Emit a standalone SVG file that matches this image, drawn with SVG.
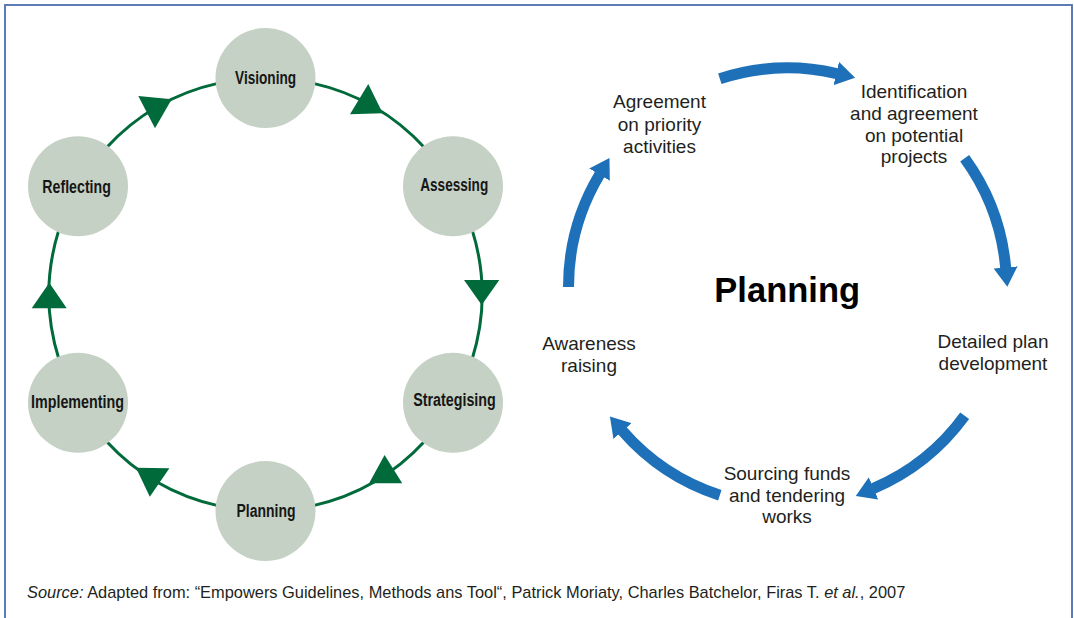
<svg xmlns="http://www.w3.org/2000/svg" width="1074" height="618" viewBox="0 0 1074 618">
<style>
.frame{fill:none;stroke:#4a6fb0;stroke-width:1.8}
.ring{fill:none;stroke:#006a3a;stroke-width:3}
.head{fill:#006a3a}
.node{fill:#c5d1c4}
.nl{font-family:"Liberation Sans",Arial,sans-serif;font-weight:bold;font-size:18px;fill:#161616;text-anchor:middle}
.blue{fill:none;stroke:#1e71b8;stroke-width:11}
.lbl{font-family:"Liberation Sans",Arial,sans-serif;font-size:19px;fill:#231f20;text-anchor:middle}
.title{font-family:"Liberation Sans",Arial,sans-serif;font-weight:bold;font-size:34.5px;fill:#000;text-anchor:middle}
.src{font-family:"Liberation Sans",Arial,sans-serif;font-size:16.4px;fill:#231f20}
</style>
<defs>
<marker id="bh" markerUnits="userSpaceOnUse" markerWidth="20" markerHeight="24" viewBox="0 0 20 24" refX="0.5" refY="12" orient="auto">
<path d="M0,0 L19.3,12 L0,24 Z" fill="#1e71b8"/>
</marker>
</defs>
<rect class="frame" x="5" y="5" width="1067" height="630"/>

<g id="connectors">
<path class="ring" d="M312.36,83.13 A216.5,216.5 0 0 1 425.12,148.24"/>
<path class="ring" d="M471.98,229.40 A216.5,216.5 0 0 1 471.98,359.60"/>
<path class="ring" d="M425.12,440.76 A216.5,216.5 0 0 1 312.36,505.87"/>
<path class="ring" d="M218.64,505.87 A216.5,216.5 0 0 1 105.88,440.76"/>
<path class="ring" d="M59.02,359.60 A216.5,216.5 0 0 1 59.02,229.40"/>
<path class="ring" d="M105.88,148.24 A216.5,216.5 0 0 1 218.64,83.13"/>
<polygon class="head" points="138.3,96 171.7,99.3 155,128.3"/>
<polygon class="head" points="368.3,84 350,114.3 382.7,113.3"/>
<polygon class="head" points="464,280 499.3,280 481.7,305"/>
<polygon class="head" points="384.6,455 369.1,483.3 402.2,483.3"/>
<polygon class="head" points="136,467.7 169.4,468.3 149.8,496.7"/>
<polygon class="head" points="49.3,282.7 31.7,308.3 66.7,308.3"/>

<path class="blue" marker-end="url(#bh)" d="M719.83,78.72 A219,219 0 0 1 836.76,73.61"/>
<path class="blue" marker-end="url(#bh)" d="M964.67,158.27 A219,219 0 0 1 1005.67,267.91"/>
<path class="blue" marker-end="url(#bh)" d="M964.67,415.73 A219,219 0 0 1 873.07,488.59"/>
<path class="blue" marker-end="url(#bh)" d="M719.83,495.28 A219,219 0 0 1 622.22,430.68"/>
<path class="blue" marker-end="url(#bh)" d="M568.5,287 A219,219 0 0 1 599.78,174.21"/>
</g>

<g id="node-visioning"><circle class="node" cx="265.5" cy="78" r="50"/><text class="nl" x="265.6" y="84" textLength="61" lengthAdjust="spacingAndGlyphs">Visioning</text></g>
<g id="node-assessing"><circle class="node" cx="453" cy="186.25" r="50"/><text class="nl" x="454.2" y="190.7" textLength="68" lengthAdjust="spacingAndGlyphs">Assessing</text></g>
<g id="node-strategising"><circle class="node" cx="453" cy="402.75" r="50"/><text class="nl" x="454.5" y="406" textLength="82.5" lengthAdjust="spacingAndGlyphs">Strategising</text></g>
<g id="node-planning"><circle class="node" cx="265.5" cy="511" r="50"/><text class="nl" x="266" y="516.7" textLength="59" lengthAdjust="spacingAndGlyphs">Planning</text></g>
<g id="node-implementing"><circle class="node" cx="78" cy="402.75" r="50"/><text class="nl" x="77.5" y="408.3" textLength="93" lengthAdjust="spacingAndGlyphs">Implementing</text></g>
<g id="node-reflecting"><circle class="node" cx="78" cy="186.25" r="50"/><text class="nl" x="76.6" y="192.7" textLength="68.5" lengthAdjust="spacingAndGlyphs">Reflecting</text></g>

<g id="title-planning"><text class="title" x="787.2" y="301.7">Planning</text></g>

<g id="step-agreement"><text class="lbl" x="659.5" y="108.3">Agreement</text><text class="lbl" x="659.5" y="130.7">on priority</text><text class="lbl" x="659.5" y="153.3">activities</text></g>
<g id="step-identification"><text class="lbl" x="914" y="98.3">Identification</text><text class="lbl" x="914" y="120">and agreement</text><text class="lbl" x="914" y="141.7">on potential</text><text class="lbl" x="914" y="163.3">projects</text></g>
<g id="step-detailed"><text class="lbl" x="993" y="348.3">Detailed plan</text><text class="lbl" x="993" y="370">development</text></g>
<g id="step-sourcing"><text class="lbl" x="787" y="480">Sourcing funds</text><text class="lbl" x="787" y="501.7">and tendering</text><text class="lbl" x="787" y="523.3">works</text></g>
<g id="step-awareness"><text class="lbl" x="589" y="350">Awareness</text><text class="lbl" x="589" y="371.7">raising</text></g>

<text class="src" x="27" y="597.7"><tspan font-style="italic">Source:</tspan> Adapted from: “Empowers Guidelines, Methods ans Tool“, Patrick Moriaty, Charles Batchelor, Firas T. <tspan font-style="italic">et al.</tspan>, 2007</text>
</svg>
